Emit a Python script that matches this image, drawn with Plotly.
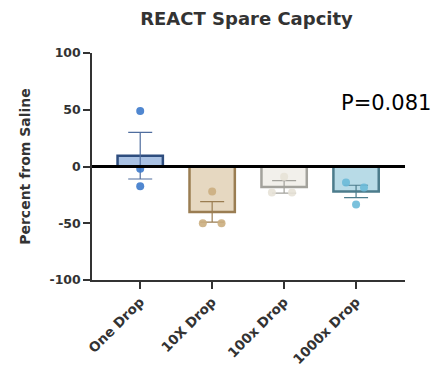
import plotly.graph_objects as go

categories = ["One Drop", "10X Drop", "100x Drop", "1000x Drop"]
means = [9.5, -40.0, -18.0, -22.0]
sems = [20.5, 9.0, 5.5, 5.5]
points = [
    [49.0, -2.0, -17.5],
    [-22.0, -50.0, -50.0],
    [-9.0, -23.0, -23.0],
    [-14.0, -18.5, -33.5],
]
p_label = "P=0.081"

# styles
fills = ["#a9c1e3", "#e6d8c1", "#f2f0eb", "#b8dbe7"]
borders = ["#2e4d7e", "#9a7d52", "#a3a29c", "#4c7c8c"]
errcol = ["#4f6d9e", "#9a7d52", "#a3a29c", "#4c7c8c"]
dots = ["#3d7acb", "#cbae7f", "#e7e2d7", "#6cbad8"]
dx = [[0.0, 0.0, 0.0], [0.0, -0.13, 0.13], [0.0, -0.17, 0.11], [-0.14, 0.11, 0.0]]

FONT = "DejaVu Sans"

fig = go.Figure()
for i, c in enumerate(categories):
    fig.add_trace(go.Bar(
        x=[i], y=[means[i]], width=0.63,
        marker=dict(color=fills[i], line=dict(color=borders[i], width=2.5)),
        error_y=dict(type="data", array=[sems[i]], visible=True,
                     color=errcol[i], thickness=1.2, width=12),
        showlegend=False,
    ))
for i, c in enumerate(categories):
    fig.add_trace(go.Scatter(
        x=[i + d for d in dx[i]], y=points[i], mode="markers",
        marker=dict(color=dots[i], size=8, opacity=0.9),
        showlegend=False, cliponaxis=False,
    ))

fig.add_shape(type="line", xref="paper", yref="y", x0=0, x1=1, y0=0, y1=0,
              line=dict(color="black", width=3), layer="above")

fig.add_annotation(text=p_label, xref="paper", yref="paper", x=1.09, y=0.78,
                   xanchor="right", yanchor="middle", showarrow=False,
                   font=dict(family=FONT, size=21, color="black"))

fig.update_layout(
    width=434, height=366,
    margin=dict(l=92, r=29, t=53, b=86),
    paper_bgcolor="white", plot_bgcolor="white",
    title=dict(text="<b>REACT Spare Capcity</b>", x=0.568, xanchor="center",
               y=0.95, yanchor="middle",
               font=dict(family=FONT, size=18, color="#333")),
    font=dict(family=FONT, color="#333"),
    bargap=0.3,
)
fig.update_xaxes(
    range=[-0.67, 3.68], tickmode="array", tickvals=list(range(len(categories))),
    ticktext=[f"<b>{c}</b>" for c in categories], tickangle=-45,
    showline=True, linecolor="#333", linewidth=1.5, ticks="outside",
    ticklen=7, tickcolor="#333", tickwidth=1.5, showgrid=False, zeroline=False,
    tickfont=dict(size=13.5), automargin=False,
)
fig.update_yaxes(
    range=[-100, 100], tickvals=[-100, -50, 0, 50, 100],
    ticktext=["<b>-100</b>", "<b>-50</b>", "<b>0</b>", "<b>50</b>", "<b>100</b>"],
    showline=True, linecolor="#333", linewidth=1.5, ticks="outside",
    ticklen=7, tickcolor="#333", tickwidth=1.5, showgrid=False, zeroline=False,
    tickfont=dict(size=12.5), automargin=False,
    title=dict(text="<b>Percent from Saline</b>", font=dict(size=14), standoff=16),
)

fig.write_html("out.html")
